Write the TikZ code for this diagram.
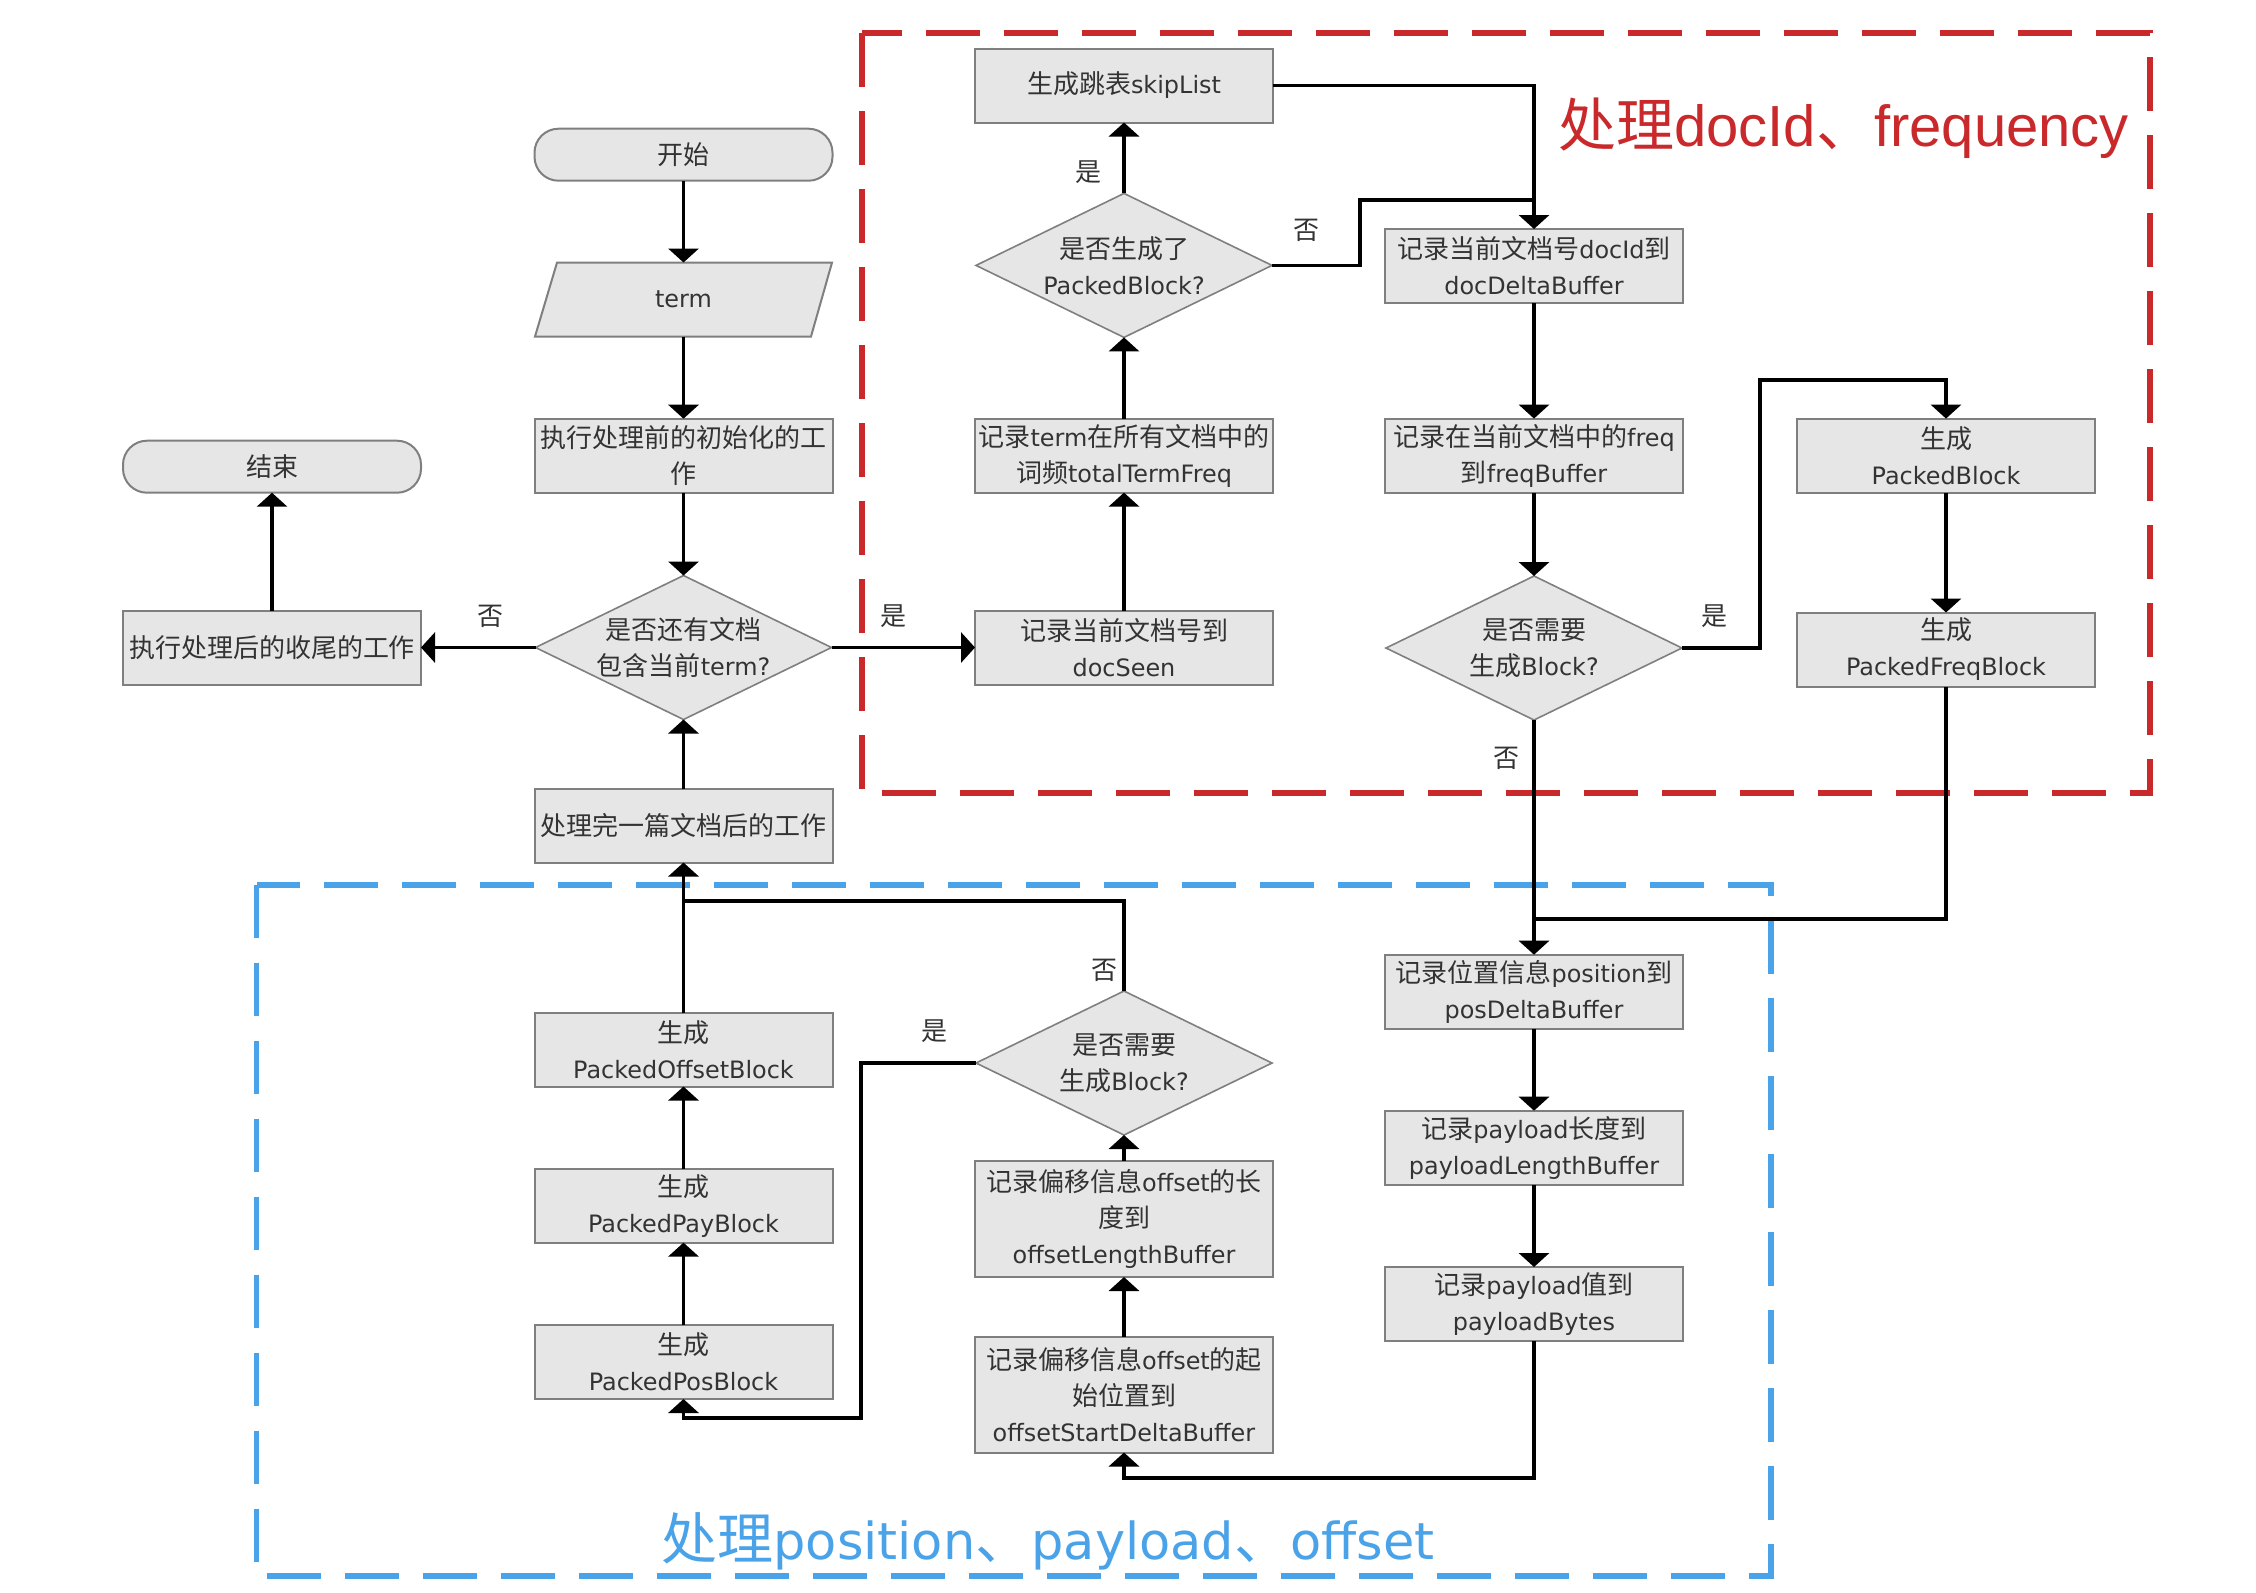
\documentclass[tikz,border=0pt]{standalone}
\usepackage{fontspec}
\setmainfont{DejaVu Sans}[Scale=0.92]
\newfontfamily\cjkfont{Noto Sans CJK SC}
\newfontfamily\redlat{Liberation Sans}
\newfontfamily\bluelat{DejaVu Sans}
\newcommand\zw[1]{{\cjkfont #1}}
\usetikzlibrary{arrows.meta,shapes.geometric}
\definecolor{boxfill}{HTML}{E6E6E6}
\definecolor{boxline}{HTML}{7F7F7F}
\definecolor{txt}{HTML}{333333}
\definecolor{grpred}{RGB}{201,41,43}
\definecolor{grpblue}{RGB}{74,163,232}
\tikzset{
  every node/.style={text=txt, font=\fontsize{13}{18}\selectfont},
  box/.style={draw=boxline, fill=boxfill, line width=1pt, minimum width=149pt,
    minimum height=37pt, inner xsep=1.5pt, inner ysep=1pt, align=center, outer sep=0pt},
  tallbox/.style={box, minimum height=58pt},
  capsule/.style={box, rounded corners=12pt, minimum height=26pt},
  decision/.style={draw=boxline, fill=boxfill, line width=0.8pt, diamond,
    minimum width=148pt, minimum height=72pt, inner sep=0pt, outer sep=0pt},
  dtext/.style={align=center, inner sep=0pt},
  lbl/.style={inner sep=0pt},
  conn/.style={line width=1.7pt, black},
  arr/.style={conn, -{Triangle[width=15pt,length=7pt]}},
  grp/.style={line width=2.8pt, dash pattern=on 26.8pt off 12.2pt},
}
\begin{document}
\begin{tikzpicture}[x=0.5pt, y=-0.5pt]
\useasboundingbox (0,0) rectangle (2256,1592);

% group frames
\draw[grp, grpred] (862,33) rectangle (2150,793);
\draw[grp, grpblue] (256.5,884.7) rectangle (1770.7,1576);
\node[anchor=base, text=grpred, inner sep=0pt] (redtitle) at (1843.5,146.7)
  {\fontsize{29}{32}\selectfont\zw{处理}{\redlat docId}\zw{、}{\redlat frequency}};
\node[anchor=base, text=grpblue, inner sep=0pt] (bluetitle) at (1048,1559)
  {\fontsize{28}{32}\selectfont\zw{处理}{\bluelat\fontsize{25.5}{32}\selectfont position}\zw{、}{\bluelat\fontsize{25.5}{32}\selectfont payload}\zw{、}{\bluelat\fontsize{25.5}{32}\selectfont offset}};

% main column
\node[capsule] (start) at (683.5,154.7) {\zw{开始}};
\draw[draw=boxline, fill=boxfill, line width=1pt] (557,262.6) -- (832,262.6) -- (811,336.5) -- (535,336.5) -- cycle;
\node[minimum width=149pt, minimum height=37pt, inner sep=0pt, outer sep=0pt] (term) at (683.5,299.5) {term};
\node[box] (init) at (683.5,455.7) {\zw{执行处理前的初始化的工}\\\zw{作}};
\node[decision] (d1) at (683.5,647.5) {};
\node[dtext] (d1t) at (d1) {\zw{是否还有文档}\\\zw{包含当前}term?};
\node[box] (done) at (683.5,825.5) {\zw{处理完一篇文档后的工作}};
\node[capsule] (end) at (272,466.7) {\zw{结束}};
\node[box] (fin) at (272,648) {\zw{执行处理后的收尾的工作}};

% docId / frequency part
\node[box] (skip) at (1124,85.5) {\zw{生成跳表}skipList};
\node[decision] (d2) at (1124,265.4) {};
\node[dtext] (d2t) at (d2) {\zw{是否生成了}\\PackedBlock?};
\node[box] (ttf) at (1124,455.6) {\zw{记录}term\zw{在所有文档中的}\\\zw{词频}totalTermFreq};
\node[box] (seen) at (1124,648) {\zw{记录当前文档号到}\\docSeen};
\node[box] (docid) at (1534,266) {\zw{记录当前文档号}docId\zw{到}\\docDeltaBuffer};
\node[box] (freq) at (1534,455.6) {\zw{记录在当前文档中的}freq\\\zw{到}freqBuffer};
\node[decision] (d3) at (1534,648) {};
\node[dtext] (d3t) at (d3) {\zw{是否需要}\\\zw{生成}Block?};
\node[box] (pb) at (1946,455.6) {\zw{生成}\\PackedBlock};
\node[box] (pfb) at (1946,649.5) {\zw{生成}\\PackedFreqBlock};

% position / payload / offset part
\node[box] (pos) at (1534,991.7) {\zw{记录位置信息}position\zw{到}\\posDeltaBuffer};
\node[box] (plen) at (1534,1147.7) {\zw{记录}payload\zw{长度到}\\payloadLengthBuffer};
\node[box] (pbytes) at (1534,1304) {\zw{记录}payload\zw{值到}\\payloadBytes};
\node[decision] (d4) at (1124,1063) {};
\node[dtext] (d4t) at (d4) {\zw{是否需要}\\\zw{生成}Block?};
\node[tallbox] (olen) at (1124,1219) {\zw{记录偏移信息}offset\zw{的长}\\\zw{度到}\\offsetLengthBuffer};
\node[tallbox] (ostart) at (1124,1394.5) {\zw{记录偏移信息}offset\zw{的起}\\\zw{始位置到}\\offsetStartDeltaBuffer};
\node[box] (poff) at (683.5,1049.5) {\zw{生成}\\PackedOffsetBlock};
\node[box] (ppay) at (683.5,1205.6) {\zw{生成}\\PackedPayBlock};
\node[box] (ppos) at (683.5,1362) {\zw{生成}\\PackedPosBlock};

% branch labels
\node[lbl] (l1) at (490,616) {\zw{否}};
\node[lbl] (l2) at (893.5,616.5) {\zw{是}};
\node[lbl] (l3) at (1088.5,172) {\zw{是}};
\node[lbl] (l4) at (1306,230) {\zw{否}};
\node[lbl] (l5) at (1714.5,616) {\zw{是}};
\node[lbl] (l6) at (1506,758) {\zw{否}};
\node[lbl] (l7) at (1104,970) {\zw{否}};
\node[lbl] (l8) at (934,1031) {\zw{是}};

% junction points
\coordinate (j2) at (1360,200);
\coordinate (j3) at (1760,380);
\coordinate (j4) at (1534,919);
\coordinate (j5) at (1534,1478);
\coordinate (j6) at (861,1418);
\coordinate (j7) at (683.5,901);

% connectors
\draw[arr] (start) -- (term);
\draw[arr] (term) -- (init);
\draw[arr] (init) -- (d1);
\draw[arr] (d1.west) -- (d1.west -| fin.east);
\draw[arr] (fin) -- (end);
\draw[arr] (d1.east) -- (d1.east -| seen.west);
\draw[arr] (done) -- (d1);
\draw[arr] (seen) -- (ttf);
\draw[arr] (ttf) -- (d2);
\draw[arr] (d2) -- (skip);
\draw[arr] (skip.east) -| (docid.north);
\draw[conn] (d2.east) -| (j2) -- (j2 -| docid.north);
\draw[arr] (docid) -- (freq);
\draw[arr] (freq) -- (d3);
\draw[arr] (d3.east) -| (j3) -| (pb.north);
\draw[arr] (pb) -- (pfb);
\draw[conn] (pfb.south) |- (j4);
\draw[arr] (d3) -- (pos);
\draw[arr] (pos) -- (plen);
\draw[arr] (plen) -- (pbytes);
\draw[arr] (pbytes.south) -- (j5) -| (ostart.south);
\draw[arr] (ostart) -- (olen);
\draw[arr] (olen) -- (d4);
\draw[arr] (d4.west) -| (j6) -| (ppos.south);
\draw[arr] (ppos) -- (ppay);
\draw[arr] (ppay) -- (poff);
\draw[arr] (poff) -- (done);
\draw[conn] (d4.north) |- (j7);
\end{tikzpicture}
\end{document}
